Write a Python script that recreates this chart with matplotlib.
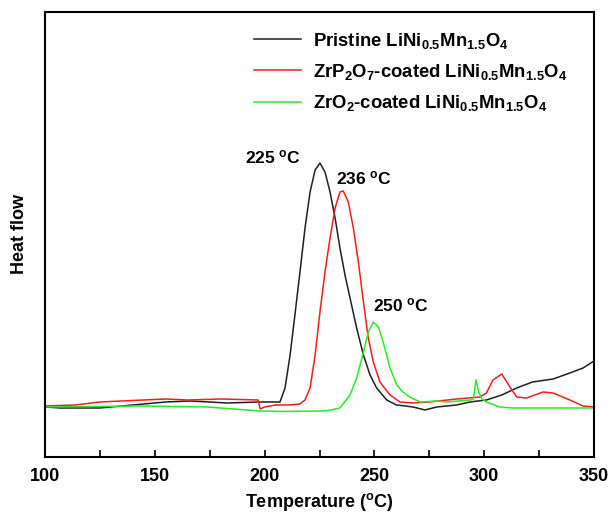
import matplotlib
matplotlib.use("Agg")
import matplotlib.pyplot as plt
from matplotlib.ticker import MultipleLocator

plt.rcParams['font.family'] = ['Liberation Sans', 'DejaVu Sans']
plt.rcParams['font.weight'] = 'bold'
plt.rcParams['mathtext.fontset'] = 'custom'
plt.rcParams['mathtext.rm'] = 'Liberation Sans:bold'
plt.rcParams['mathtext.it'] = 'Liberation Sans:bold'
plt.rcParams['mathtext.bf'] = 'Liberation Sans:bold'

# DSC traces (temperature in degC, heat flow in arbitrary units)
pristine_t = [100, 107, 125, 140, 155, 166, 183, 198, 207, 209.3, 211.6, 213.8, 216.1,
              218.4, 220.7, 223, 225.2, 227.5, 229.8, 232.1, 234.3, 236.6, 238.9, 241.9,
              245, 248, 251, 255.6, 260, 264, 267.6, 273, 278.4, 287.5, 293.5, 301, 308,
              314.8, 322, 331.4, 339, 345, 350]
pristine_q = [50, 49, 49, 52, 55, 56, 54, 55, 55, 69, 102, 142, 185,
              229, 265, 287, 294, 285, 265, 239, 209, 182, 159, 129,
              102, 82, 69, 57, 52, 51, 50, 47, 50, 52, 55, 57, 62,
              69, 75, 78, 84, 89, 96]

zrp2o7_t = [100, 114, 125, 140, 155, 165, 180, 197, 198, 200, 205, 211.5, 216, 218.4,
            220.7, 223, 225.2, 227.5, 229.8, 232.1, 234.3, 235.8, 238.1, 240.4, 242.7,
            245, 247.2, 249.5, 252.5, 257.1, 261.7, 267.6, 275, 287.5, 298, 301, 304,
            308, 311.7, 314.8, 319.3, 326.8, 331.4, 339, 345, 350]
zrp2o7_q = [51, 52, 55, 56.5, 58, 57, 58, 57, 48, 50, 52, 52, 53, 57,
            69, 102, 145, 185, 219, 249, 265, 266, 255, 229, 195,
            155, 119, 95, 75, 62, 55, 54, 55, 58, 60, 64, 77,
            83, 70, 60, 59, 65, 64, 57, 51, 50]

zro2_t = [100, 143, 173.7, 198, 207, 226.6, 230, 234.3, 238.9, 241.9, 245, 247.2,
          249.5, 251.8, 254, 257.1, 260.2, 263, 266, 270.8, 278.4, 283, 293.5, 295,
          296.3, 297.5, 299, 301, 307, 313, 350]
zro2_q = [50, 51, 50, 46, 45.5, 46, 47, 49, 62, 79, 105, 125,
          135, 130, 115, 89, 72, 65, 60, 55, 56, 55, 57, 58,
          77, 65, 58, 55, 50, 49, 49]

labels = [r'Pristine LiNi$_{0.5}$Mn$_{1.5}$O$_4$',
          r'ZrP$_2$O$_7$-coated LiNi$_{0.5}$Mn$_{1.5}$O$_4$',
          r'ZrO$_2$-coated LiNi$_{0.5}$Mn$_{1.5}$O$_4$']
peak_labels = [r'225 $^{\rm o}$C', r'236 $^{\rm o}$C', r'250 $^{\rm o}$C']
peak_pos = [(191, 300), (232.5, 279), (249.4, 152)]

fig = plt.figure(figsize=(6.09, 5.13), dpi=100)
ax = fig.add_axes([0.0739, 0.1092, 0.9015, 0.8674])

ax.plot(pristine_t, pristine_q, '-', color='#202020', lw=1.1, label=labels[0])
ax.plot(zrp2o7_t, zrp2o7_q, '-', color='#ff1a1a', lw=1.1, label=labels[1])
ax.plot(zro2_t, zro2_q, '-', color='#22ee22', lw=1.1, label=labels[2])

for txt, (tx, ty) in zip(peak_labels, peak_pos):
    ax.text(tx, ty, txt, fontsize=12.5, fontweight='bold', va='center')

ax.set_xlim(100, 350)
ax.set_ylim(0, 445)
ax.xaxis.set_major_locator(MultipleLocator(50))
ax.xaxis.set_minor_locator(MultipleLocator(25))
ax.tick_params(axis='x', which='both', direction='in', top=False, length=5, width=1.2,
               labelsize=13, pad=8)
ax.set_yticks([])
for s in ax.spines.values():
    s.set_linewidth(1.5)

ax.set_xlabel(r'Temperature ($^{\rm o}$C)', fontsize=13, fontweight='bold', labelpad=4)
ax.set_ylabel('Heat flow', fontsize=13, fontweight='bold', labelpad=12)

ax.legend(loc='upper left', bbox_to_anchor=(0.351, 0.995), frameon=False, fontsize=13.3,
          handlelength=2.55, handletextpad=0.65, labelspacing=0.6)

fig.savefig('out.png', dpi=100)
